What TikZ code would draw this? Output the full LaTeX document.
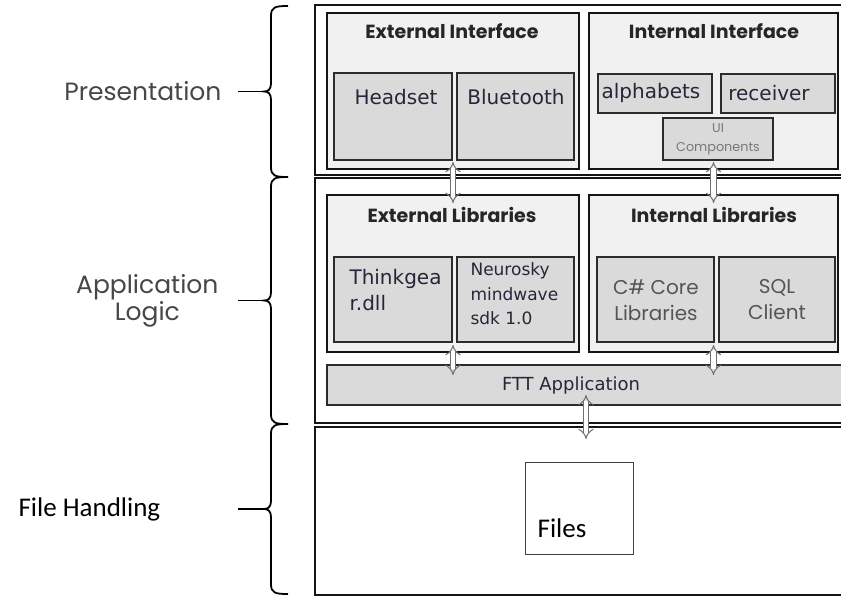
\documentclass[tikz,border=0pt]{standalone}
\usepackage{fontspec}
\usetikzlibrary{arrows.meta,calc}
\newfontfamily\gothicfont{Poppins}
\newfontfamily\verdfont{DejaVu Sans}
\newfontfamily\calibfont{Carlito}
\definecolor{frameline}{HTML}{151515}
\definecolor{groupfill}{HTML}{F1F1F1}
\definecolor{itemfill}{HTML}{DADADA}
\definecolor{tiergray}{HTML}{474747}
\definecolor{itemink}{HTML}{26263A}
\definecolor{softink}{HTML}{555555}
\definecolor{arrowline}{HTML}{707070}

% curly brace opening to the right; #1 top, #2 bottom, #3 name of the tip
\newcommand\tierbrace[3]{%
  \draw[bracepen] (288,#1) .. controls (275,#1) and (271,#1+1) .. (271,#1+10)
    -- (271,{(#1+#2)/2-8}) .. controls (271,{(#1+#2)/2-2}) and (268,{(#1+#2)/2}) .. (264,{(#1+#2)/2})
    coordinate (#3)
    .. controls (268,{(#1+#2)/2}) and (271,{(#1+#2)/2+2}) .. (271,{(#1+#2)/2+8})
    -- (271,#2-10) .. controls (271,#2-1) and (275,#2) .. (288,#2);
}

\begin{document}
\begin{tikzpicture}[x=1pt,y=-1pt,
  bracepen/.style={line width=1.8pt, draw=black},
  tier/.style={draw=frameline, line width=1.7pt, fill=white, anchor=north west, inner sep=0pt, outer sep=0pt},
  grp/.style={draw=frameline, line width=1.5pt, fill=groupfill, anchor=north west, inner sep=0pt, outer sep=0pt},
  item/.style={draw=frameline!90, line width=1.2pt, fill=itemfill, anchor=north west, inner sep=0pt, outer sep=0pt},
  grptitle/.style={font=\gothicfont\bfseries\fontsize{19}{22}\selectfont, text=black!85},
  itemtxt/.style={font=\verdfont\fontsize{20}{26}\selectfont, text=itemink, align=left},
  smalltxt/.style={font=\verdfont\fontsize{17}{24.5}\selectfont, text=itemink, align=left},
  softtxt/.style={font=\gothicfont\fontsize{20}{26}\selectfont, text=softink, align=center},
  tinytxt/.style={font=\gothicfont\fontsize{12.8}{19}\selectfont, text=softink!80, align=center},
  tiertxt/.style={font=\gothicfont\fontsize{25}{27}\selectfont, text=tiergray, align=center},
  plaintxt/.style={font=\calibfont\fontsize{27}{30}\selectfont, text=black},
  link/.style={draw=arrowline, line width=1pt, double=white, double distance=4.4pt, {Implies}-{Implies}},
]
\useasboundingbox (0,0) rectangle (841,597);
\fill[white] (0,0) rectangle (841,597);

% three tiers
\node[tier, minimum width=545pt, minimum height=170pt] (pres) at (315,5) {};
\node[tier, minimum width=545pt, minimum height=245pt] (app) at (315,178) {};
\node[tier, minimum width=545pt, minimum height=168pt] (fileh) at (315,427) {};

% presentation tier
\node[grp, minimum width=252pt, minimum height=156pt] (extif) at (327,13) {};
\node[grp, minimum width=249pt, minimum height=156pt] (intif) at (589,13) {};
\node[grptitle] (extif-t) at (452,31) {External Interface};
\node[grptitle] (intif-t) at (714,31) {Internal Interface};
\node[item, minimum width=118pt, minimum height=87pt] (headset) at (334,73) {};
\node[item, minimum width=117pt, minimum height=87pt] (bt) at (457,73) {};
\node[item, minimum width=114pt, minimum height=39pt] (alpha) at (598,74) {};
\node[item, minimum width=114pt, minimum height=39pt] (recv) at (721,74) {};
\node[item, minimum width=110pt, minimum height=42pt] (uicomp) at (663,118) {};
\node[itemtxt] (headset-t) at (396,97) {Headset};
\node[itemtxt] (bt-t) at (516,97) {Bluetooth};
\node[itemtxt] (alpha-t) at (651,93) {alphabets};
\node[itemtxt] (recv-t) at (769,93) {receiver};
\node[tinytxt] (uicomp-t) at (718,139) {UI\\Components};

% application tier
\node[grp, minimum width=252pt, minimum height=157pt] (extlib) at (327,195) {};
\node[grp, minimum width=249pt, minimum height=157pt] (intlib) at (589,195) {};
\node[grptitle] (extlib-t) at (452,215) {External Libraries};
\node[grptitle] (intlib-t) at (714,215) {Internal Libraries};
\node[item, minimum width=118pt, minimum height=85pt] (think) at (334,257) {};
\node[item, minimum width=117pt, minimum height=85pt] (neuro) at (457,257) {};
\node[item, minimum width=117pt, minimum height=85pt] (csharp) at (597,257) {};
\node[item, minimum width=116pt, minimum height=85pt] (sql) at (719,257) {};
\node[itemtxt, anchor=west] (think-t) at (346,290) {Thinkgea\\r.dll};
\node[smalltxt, anchor=west] (neuro-t) at (467,294) {Neurosky\\mindwave\\sdk 1.0};
\node[softtxt] (csharp-t) at (656,300) {C\# Core\\Libraries};
\node[softtxt] (sql-t) at (777,300) {SQL\\Client};
\node[item, minimum width=518pt, minimum height=40pt] (ftt) at (327,365) {};
\node[font=\verdfont\fontsize{18}{20}\selectfont, text=itemink] (ftt-t) at (571,386) {FTT Application};

% file handling tier
\node[draw=black!75, line width=1pt, fill=white, anchor=north west, minimum width=108pt, minimum height=92pt] (files) at (525,462) {};
\node[plaintxt] (files-t) at (562,528) {Files};

% block arrows between layers
\draw[link, shorten <=-7pt, shorten >=-8pt] (extif.south) -- (extlib.north);
\draw[link, shorten <=-7pt, shorten >=-8pt] (intif.south) -- (intlib.north);
\draw[link, shorten <=-7pt, shorten >=-10pt] (extlib.south) -- (extlib.south |- ftt.north);
\draw[link, shorten <=-7pt, shorten >=-10pt] (intlib.south) -- (intlib.south |- ftt.north);
\draw[link, shorten <=-10pt, shorten >=-12pt] (ftt.south) -- (ftt.south |- fileh.north);

% braces with their tier names
\tierbrace{6}{177}{presTip}
\tierbrace{177}{424}{appTip}
\tierbrace{424}{594}{fileTip}
\draw[bracepen] (presTip) -- ++(-26,0) coordinate (presEnd);
\draw[bracepen] (appTip) -- ++(-26,0) coordinate (appEnd);
\draw[bracepen] (fileTip) -- ++(-26,0) coordinate (fileEnd);
\node[tiertxt, anchor=east] (pres-l) at ([xshift=-13pt]presEnd) {Presentation};
\node[tiertxt, anchor=east] (app-l) at ([xshift=-16pt]appEnd) {Application\\Logic};
\path (fileEnd) ++(-223,0) node[plaintxt, anchor=west] (file-l) {File Handling};
\end{tikzpicture}
\end{document}
